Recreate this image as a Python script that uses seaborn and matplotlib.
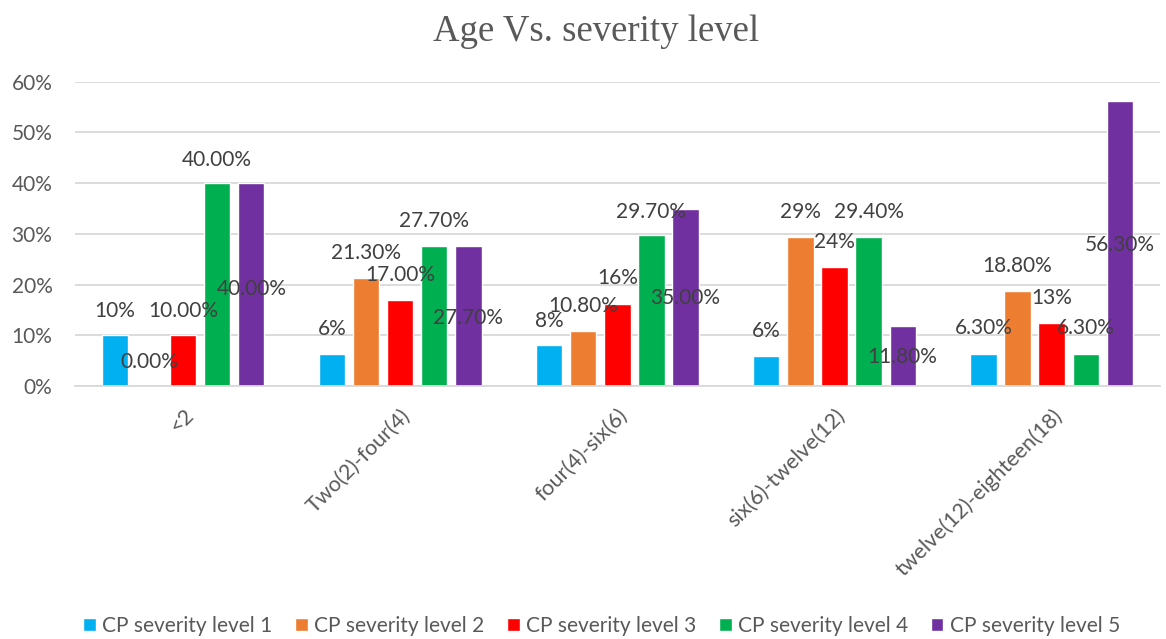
import matplotlib
matplotlib.use("Agg")
import matplotlib.pyplot as plt
import seaborn as sns
import pandas as pd
from matplotlib.ticker import FuncFormatter

categories = ["<2", "Two(2)-four(4)", "four(4)-six(6)", "six(6)-twelve(12)", "twelve(12)-eighteen(18)"]
series = ["CP severity level 1", "CP severity level 2", "CP severity level 3",
          "CP severity level 4", "CP severity level 5"]

level1 = [10.0, 6.4, 8.0, 5.9, 6.3]
level2 = [0.0, 21.3, 10.8, 29.4, 18.8]
level3 = [10.0, 17.0, 16.2, 23.4, 12.4]
level4 = [40.0, 27.7, 29.7, 29.4, 6.3]
level5 = [40.0, 27.7, 35.0, 11.8, 56.3]

labels1 = ["10%", "6%", "8%", "6%", "6.30%"]
labels2 = ["0.00%", "21.30%", "10.80%", "29%", "18.80%"]
labels3 = ["10.00%", "17.00%", "16%", "24%", "13%"]
labels4 = ["40.00%", "27.70%", "29.70%", "29.40%", "6.30%"]
labels5 = ["40.00%", "27.70%", "35.00%", "11.80%", "56.30%"]

# heights (in % units) at which the reference places each data label
label_y1 = [14.85, 11.3, 12.8, 10.9, 11.4]
label_y2 = [4.8, 26.2, 15.7, 34.4, 23.7]
label_y3 = [14.85, 21.9, 21.2, 28.4, 17.4]
label_y4 = [44.6, 32.5, 34.4, 34.4, 11.4]
label_y5 = [19.2, 13.4, 17.3, 5.7, 27.8]

colors = ["#00B0F0", "#ED7D31", "#FF0000", "#00B050", "#7030A0"]

values = [level1, level2, level3, level4, level5]
labels = [labels1, labels2, labels3, labels4, labels5]
label_ys = [label_y1, label_y2, label_y3, label_y4, label_y5]

rows = []
for s, vals in zip(series, values):
    for c, v in zip(categories, vals):
        rows.append({"Age": c, "Series": s, "Value": v})
df = pd.DataFrame(rows)

sns.set_style("white")
plt.rcParams["font.family"] = ["Lato", "DejaVu Sans"]

fig = plt.figure(figsize=(11.66, 6.39), dpi=100)
ax = fig.add_axes([0.064, 0.396, 0.931, 0.476])

sns.barplot(data=df, x="Age", y="Value", hue="Series", order=categories,
            hue_order=series, palette=colors, width=0.785, gap=0.23,
            saturation=1, ax=ax, legend=True)

ax.set_ylim(0, 60)
ax.set_xlim(-0.5, len(categories) - 0.5)
ax.set_yticks(range(0, 61, 10))
ax.yaxis.set_major_formatter(FuncFormatter(lambda v, p: f"{v:.0f}%"))
ax.yaxis.grid(True, color="#D9D9D9", linewidth=1.3)
ax.set_axisbelow(True)
for sp in ["top", "right", "left"]:
    ax.spines[sp].set_visible(False)
ax.spines["bottom"].set_color("#D9D9D9")
ax.spines["bottom"].set_linewidth(1.3)
ax.tick_params(axis="y", length=0, labelsize=15, colors="#595959", pad=16)
ax.tick_params(axis="x", length=0, labelsize=15.5, colors="#595959", pad=14)
ax.set_xlabel("")
ax.set_ylabel("")
plt.setp(ax.get_xticklabels(), rotation=45, ha="right", rotation_mode="anchor")

for cont, labs, lys in zip(ax.containers, labels, label_ys):
    for bar, lab, ly in zip(cont, labs, lys):
        cx = bar.get_x() + bar.get_width() / 2
        ax.text(cx, ly, lab, ha="center", va="center", fontsize=15, color="#404040")

handles, leg_labels = ax.get_legend_handles_labels()
ax.get_legend().remove()
fig.legend(handles, leg_labels, loc="lower center", bbox_to_anchor=(0.516, -0.025),
           ncol=5, frameon=False, fontsize=15, handlelength=0.6, handleheight=0.6,
           handletextpad=0.3, columnspacing=1.1, labelcolor="#595959")

fig.text(0.511, 0.95, "Age Vs. severity level", ha="center", va="center",
         fontsize=26.5, color="#595959", family=["Liberation Serif", "DejaVu Serif"])

fig.savefig("out.png", dpi=100)
